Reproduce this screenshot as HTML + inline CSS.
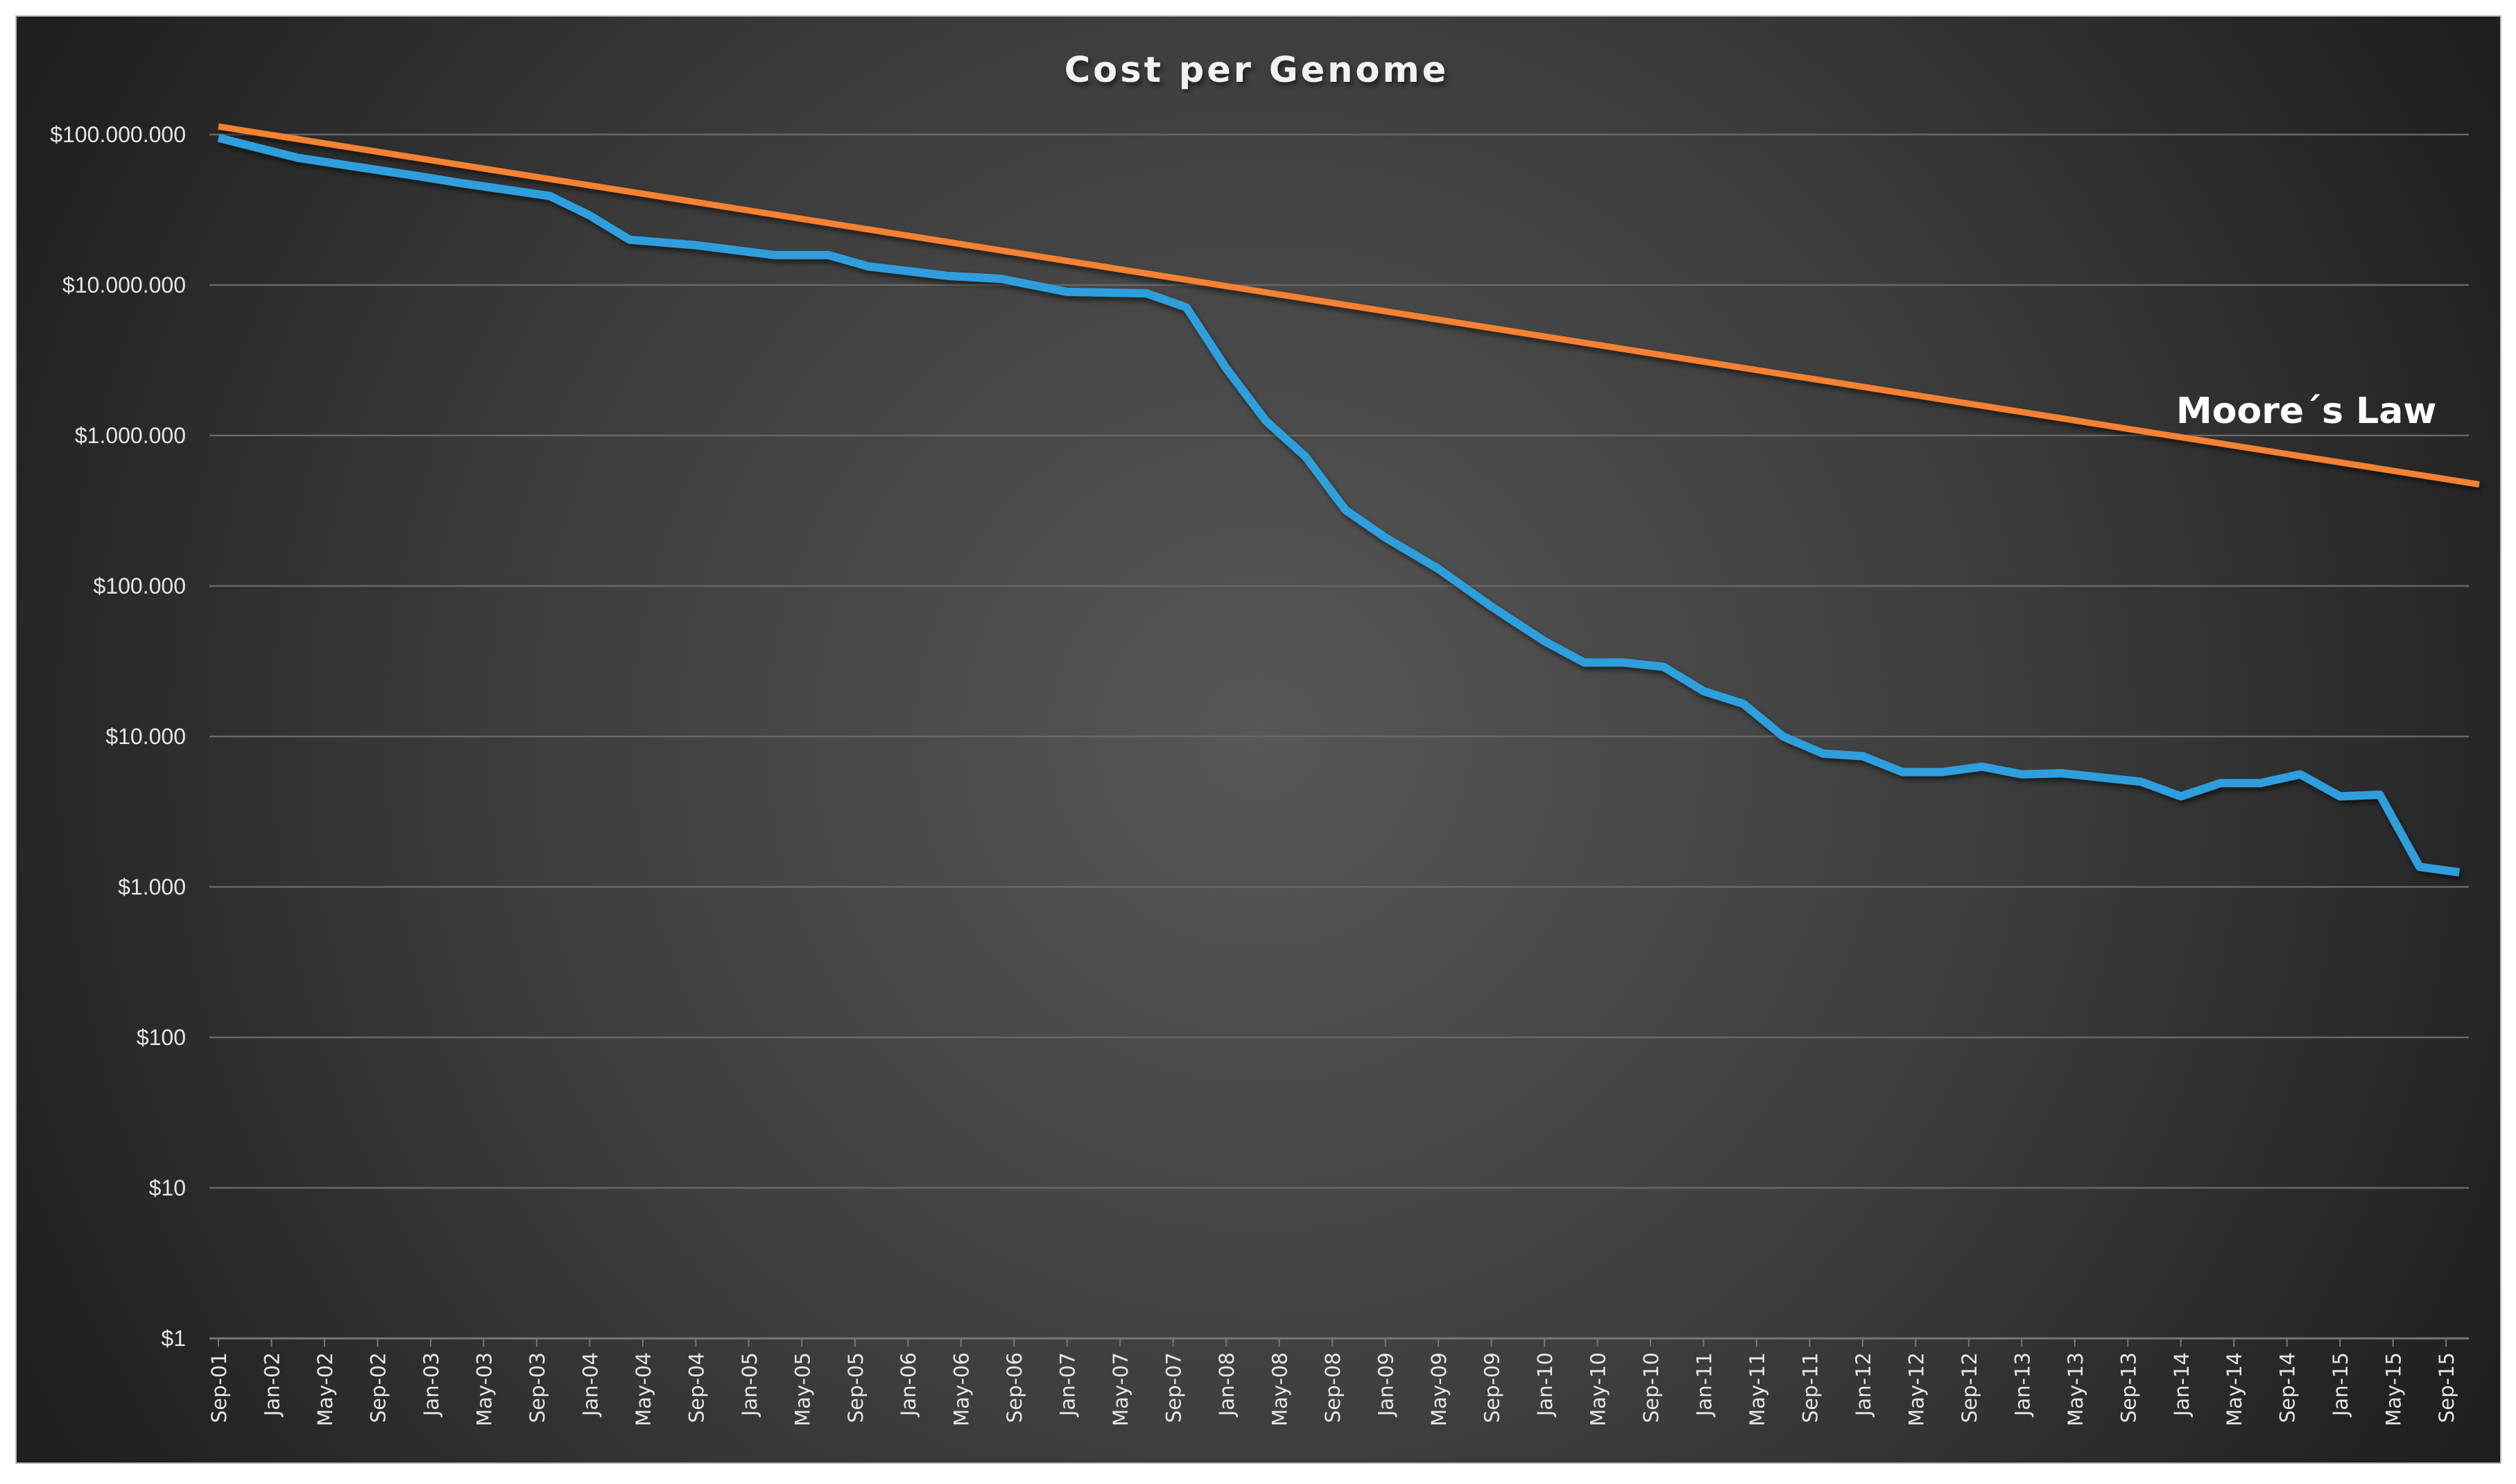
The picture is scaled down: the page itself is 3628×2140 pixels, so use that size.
<!DOCTYPE html>
<html><head><meta charset="utf-8"><style>
html,body{margin:0;padding:0;background:#fff;}
svg{display:block;}
</style></head><body>
<svg id="chart" width="3628" height="2140" viewBox="0 0 3628 2140" xmlns="http://www.w3.org/2000/svg">
<defs>
<radialGradient id="bg" cx="1816" cy="1064" r="2000" gradientUnits="userSpaceOnUse">
<stop offset="0" stop-color="#575757"/><stop offset="0.55" stop-color="#3c3c3c"/><stop offset="1" stop-color="#1f1f1f"/>
</radialGradient>
<filter id="sh" x="-5%" y="-5%" width="110%" height="110%"><feDropShadow dx="3" dy="5" stdDeviation="4" flood-color="#000" flood-opacity="0.55"/></filter>
</defs>
<rect x="23" y="23" width="3583" height="2087" fill="url(#bg)" stroke="#bbb" stroke-width="2"/>
<text x="1812" y="118" text-anchor="middle" font-family="'DejaVu Sans','Liberation Sans',sans-serif" font-weight="bold" font-size="51" letter-spacing="4" fill="#f2f2f2" filter="url(#sh)">Cost per Genome</text>
<g id="grid"></g><g id="yt"></g><g id="xt"></g><g id="series"></g>
<text x="3138" y="610" font-family="'DejaVu Sans','Liberation Sans',sans-serif" font-weight="bold" font-size="52" fill="#fff">Moore´s Law</text>
</svg>
<script>
const yTickValues=[1,10,100,1000,10000,100000,1000000,10000000,100000000];
const yTickLabels=["$1","$10","$100","$1.000","$10.000","$100.000","$1.000.000","$10.000.000","$100.000.000"];
const xTickLabels=["Sep-01","Jan-02","May-02","Sep-02","Jan-03","May-03","Sep-03","Jan-04","May-04","Sep-04","Jan-05","May-05","Sep-05","Jan-06","May-06","Sep-06","Jan-07","May-07","Sep-07","Jan-08","May-08","Sep-08","Jan-09","May-09","Sep-09","Jan-10","May-10","Sep-10","Jan-11","May-11","Sep-11","Jan-12","May-12","Sep-12","Jan-13","May-13","Sep-13","Jan-14","May-14","Sep-14","Jan-15","May-15","Sep-15"];
const costMonths=[0,6,15,18,25,28,31,36,42,46,49,55,59,64,70,73,76,79,82,85,88,92,96,100,103,106,109,112,115,118,121,124,127,130,133,136,139,145,148,151,154,157,160,163,166,169];
const costValues=[95000000,70000000,53000000,48000000,39000000,29000000,20000000,18400000,15800000,15800000,13300000,11500000,11000000,9000000,8800000,7100000,2800000,1250000,720000,320000,210000,130000,73000,43000,31000,31000,29000,20000,16500,10000,7700,7400,5800,5800,6300,5600,5700,5000,4000,4900,4900,5600,4000,4100,1360,1250];
const mooreMonths=[0,170.5];
const mooreValues=[113000000,473000];

const NS="http://www.w3.org/2000/svg";
const X0=315, DX=19.12, Y8=194, DEC=217;
const xs=m=>X0+m*DX;
const ys=v=>Y8+(8-Math.log10(v))*DEC;
function mk(tag,attrs,parent){const e=document.createElementNS(NS,tag);for(const k in attrs)e.setAttribute(k,attrs[k]);parent.appendChild(e);return e;}
const grid=document.getElementById('grid'),yt=document.getElementById('yt'),xt=document.getElementById('xt'),ser=document.getElementById('series');
yTickValues.forEach((v,i)=>{
  const y=ys(v);
  const l=mk('line',{x1:302,x2:3560,y1:y,y2:y,stroke:i===0?'#777':'#686868','stroke-width':i===0?3:2.5},grid);
  
  
  const t=mk('text',{x:268,y:y+11,'text-anchor':'end','font-family':"'Liberation Sans Narrow','Liberation Sans',sans-serif",'font-size':32,fill:'#e6e6e6'},yt);
  t.textContent=yTickLabels[i];
  
  
});
xTickLabels.forEach((lab,i)=>{
  const x=xs(i*4), y0=ys(1);
  const tk=mk('line',{x1:x,x2:x,y1:y0,y2:y0+12,stroke:'#777','stroke-width':2},xt);
  
  
  const t=mk('text',{x:0,y:0,transform:`translate(${x+11},${y0+20}) rotate(-90)`,'text-anchor':'end','font-family':"'DejaVu Sans','Liberation Sans',sans-serif",'font-size':29,fill:'#e6e6e6'},xt);
  t.textContent=lab;
  
  
});
const mp=mk('polyline',{points:mooreMonths.map((m,i)=>xs(m)+','+ys(mooreValues[i])).join(' '),fill:'none',stroke:'#f58233','stroke-width':9,filter:'url(#sh)'},ser);


const cp=mk('polyline',{points:costMonths.map((m,i)=>xs(m)+','+ys(costValues[i])).join(' '),fill:'none',stroke:'#2f9fdc','stroke-width':12,'stroke-linejoin':'round',filter:'url(#sh)'},ser);


</script>
</body></html>
